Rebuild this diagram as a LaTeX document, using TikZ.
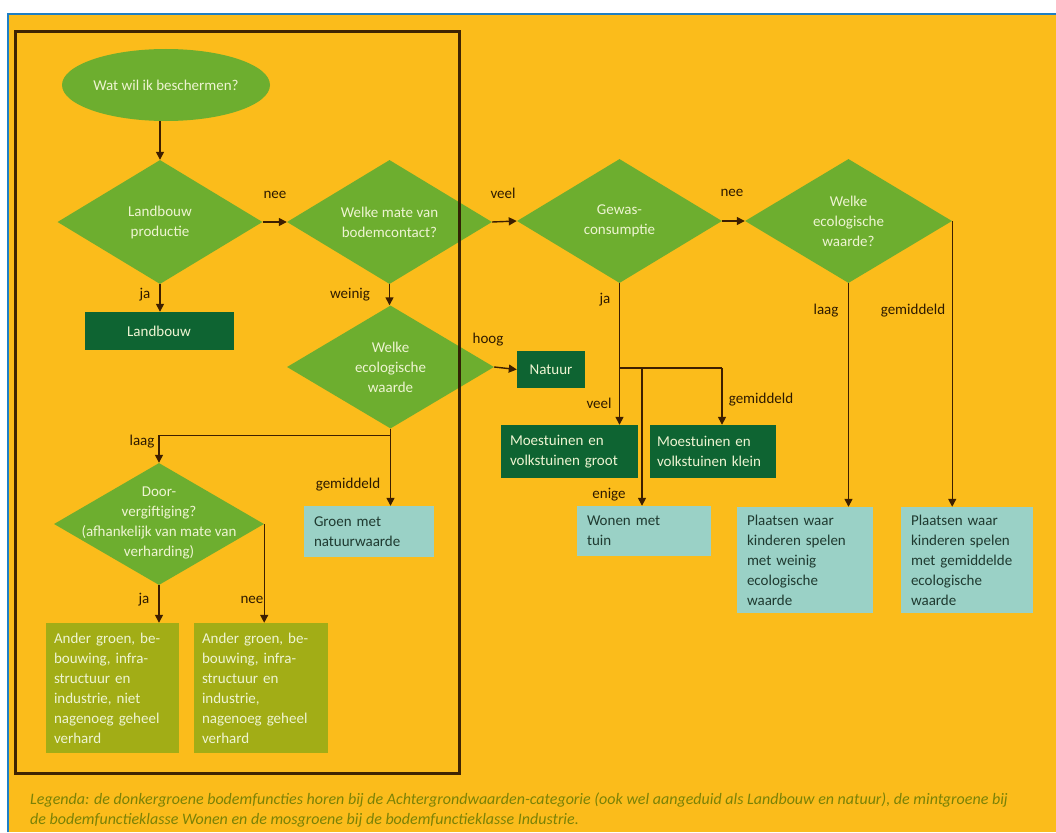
\documentclass[tikz,border=0pt]{standalone}
\usepackage{fontspec}
\setmainfont{Carlito}
\usetikzlibrary{shapes.geometric,arrows.meta}
\definecolor{bg}{HTML}{FBBC1B}
\definecolor{dgreen}{HTML}{6DAE2F}
\definecolor{dkgreen}{HTML}{0E6432}
\definecolor{mint}{HTML}{9AD1C6}
\definecolor{mos}{HTML}{A2AD16}
\definecolor{linec}{HTML}{3D1F00}
\definecolor{lbltxt}{HTML}{2E1A00}
\definecolor{dtxt}{HTML}{EEF4D2}
\definecolor{minttxt}{HTML}{1F3A30}
\definecolor{legtxt}{HTML}{7A8207}
\definecolor{blueframe}{HTML}{1F7FC4}
\definecolor{boxc}{HTML}{2B1400}
\begin{document}
\begin{tikzpicture}[x=1pt,y=-1pt,
  dia/.style={diamond, fill=dgreen, draw=none, inner sep=0pt},
  dtext/.style={text=dtxt, align=center, font=\fontsize{15}{20}\selectfont, inner sep=0pt},
  darkbox/.style={rectangle, fill=dkgreen, text=dtxt, font=\fontsize{15}{20}\selectfont, inner xsep=9pt, inner ysep=0pt},
  mintbox/.style={rectangle, fill=mint, text=minttxt, font=\fontsize{15}{20}\selectfont, inner xsep=10pt, inner ysep=0pt, align=left},
  mosbox/.style={rectangle, fill=mos, text=dtxt, font=\fontsize{15}{20}\selectfont, inner xsep=8pt, inner ysep=0pt, align=left},
  lbl/.style={text=lbltxt, font=\fontsize{15}{17}\selectfont, inner sep=0pt},
  arr/.style={draw=linec, line width=1.4pt, -{Triangle[length=8pt,width=8pt]}},
  ln/.style={draw=linec, line width=1.4pt},
  legend/.style={anchor=west, text=legtxt, font=\fontsize{16}{18}\selectfont\itshape, inner sep=0pt}
]
\useasboundingbox (0,0) rectangle (1056,832);
\fill[white] (0,0) rectangle (1056,832);
\fill[bg] (8,14) rectangle (1056,832);
\draw[blueframe, line width=2pt] (8,832) -- (8,14) -- (1056,14);

% start
\node[ellipse, fill=dgreen, minimum width=208pt, minimum height=72pt, inner sep=0pt] (ell) at (166,85) {};
\node[dtext] (ellt) at (ell) {Wat wil ik beschermen?};

% diamonds
\node[dia, minimum width=205pt, minimum height=124pt] (d1) at (160,222) {};
\node[dtext] (d1t) at (d1) {Landbouw\\productie};
\node[dia, minimum width=205pt, minimum height=124pt] (d2) at (389.5,222) {};
\node[dtext] (d2t) at (d2) {Welke mate van\\bodemcontact?};
\node[dia, minimum width=207pt, minimum height=123pt] (d3) at (390.5,367) {};
\node[dtext] (d3t) at (d3) {Welke\\ecologische\\waarde};
\node[dia, minimum width=205pt, minimum height=124pt] (d4) at (619.5,221) {};
\node[dtext] (d4t) at (d4) {Gewas-\\consumptie};
\node[dia, minimum width=207pt, minimum height=124pt] (d5) at (848.5,221) {};
\node[dtext] (d5t) at (d5) {Welke\\ecologische\\waarde?};
\node[dia, minimum width=210pt, minimum height=122pt] (d6) at (159,524) {};
\node[dtext] (d6t) at (159,522.5) {Door-\\vergiftiging?\\(afhankelijk van mate van\\verharding)};

% boxes
\node[darkbox, minimum width=149pt, minimum height=38pt] (landbouw) at (159,331) {Landbouw};
\node[darkbox, minimum width=68pt, minimum height=37pt] (natuur) at (551,369.5) {Natuur};
\node[darkbox, minimum width=135pt, minimum height=53pt, text width=119pt, align=left] (m1) at (569.5,451.5) {Moestuinen en\\volkstuinen groot};
\node[darkbox, minimum width=126pt, minimum height=53pt, text width=112pt, inner xsep=7pt, align=left] (m2) at (713,451.5) {Moestuinen en\\volkstuinen klein};
\node[mintbox, minimum width=134pt, minimum height=50pt, text width=114pt] (wonen) at (644,531) {Wonen met\\tuin};
\node[mintbox, minimum width=130pt, minimum height=51pt, text width=110pt] (groen) at (369,531.5) {Groen met\\natuurwaarde};
\node[mintbox, minimum width=136pt, minimum height=106pt, text width=116pt] (p1) at (805,560) {Plaatsen waar\\kinderen spelen\\met weinig\\ecologische\\waarde};
\node[mintbox, minimum width=132pt, minimum height=106pt, text width=112pt] (p2) at (967,560) {Plaatsen waar\\kinderen spelen\\met gemiddelde\\ecologische\\waarde};
\node[mosbox, minimum width=133pt, minimum height=130pt, text width=117pt] (b1) at (112.5,688) {Ander groen, be-\\bouwing, infra-\\structuur en\\industrie, niet\\nagenoeg geheel\\verhard};
\node[mosbox, minimum width=134pt, minimum height=130pt, text width=118pt] (b2) at (261,688) {Ander groen, be-\\bouwing, infra-\\structuur en\\industrie,\\nagenoeg geheel\\verhard};

% junction coordinates
\coordinate (jv) at (621,368);
\coordinate (je) at (642,368);
\coordinate (jr) at (722,368);

% connectors
\draw[arr] (d1.north |- ell.south) -- (d1.north);
\draw[arr] (d1.east) -- (d2.west);
\draw[arr] (d1.south) -- (d1.south |- landbouw.north);
\draw[arr] (d2.east) -- (d4.west);
\draw[arr] (d2.south) -- (d2.south |- d3.north);
\draw[arr] (d3.east) -- (natuur.west);
\draw[arr] (d4.east) -- (d5.west);
\draw[arr] (d3.south) -- ++(0,7) -| (d6.north);
\draw[arr] (d3.south) -- (d3.south |- groen.north);
\draw[arr] (d6.south) -- (d6.south |- b1.north);
\draw[arr] (d6.east) -- (d6.east |- b2.north);
\draw[arr] (d4.south) -- (d4.south |- m1.north);
\draw[ln] (d4.south |- jv) -- (jr);
\draw[arr] (jr) -- (jr |- m2.north);
\draw[arr] (je) -- (je |- wonen.north);
\draw[arr] (d5.south) -- (d5.south |- p1.north);
\draw[arr] (d5.east) -- (d5.east |- p2.north);

% labels
\node[lbl] (l1) at (275,195) {nee};
\node[lbl] (l2) at (145,295) {ja};
\node[lbl] (l3) at (503,193) {veel};
\node[lbl] (l4) at (350,295) {weinig};
\node[lbl] (l5) at (488,340) {hoog};
\node[lbl] (l6) at (732,193) {nee};
\node[lbl] (l7) at (605,300) {ja};
\node[lbl] (l8) at (826,311) {laag};
\node[lbl] (l9) at (913,311) {gemiddeld};
\node[lbl] (l10) at (599,403) {veel};
\node[lbl] (l11) at (761,400) {gemiddeld};
\node[lbl] (l12) at (609,495) {enige};
\node[lbl] (l13) at (142,442) {laag};
\node[lbl] (l14) at (348,485) {gemiddeld};
\node[lbl] (l15) at (144,600) {ja};
\node[lbl] (l16) at (252,600) {nee};

% frame box
\draw[boxc, line width=3pt, opacity=0.9] (15,32) rectangle (459,773);

% legend
\node[legend] (leg1) at (30,800) {Legenda: de donkergroene bodemfuncties horen bij de Achtergrondwaarden-categorie (ook wel aangeduid als Landbouw en natuur), de mintgroene bij};
\node[legend] (leg2) at (30,820) {de bodemfunctieklasse Wonen en de mosgroene bij de bodemfunctieklasse Industrie.};
\end{tikzpicture}
\end{document}
